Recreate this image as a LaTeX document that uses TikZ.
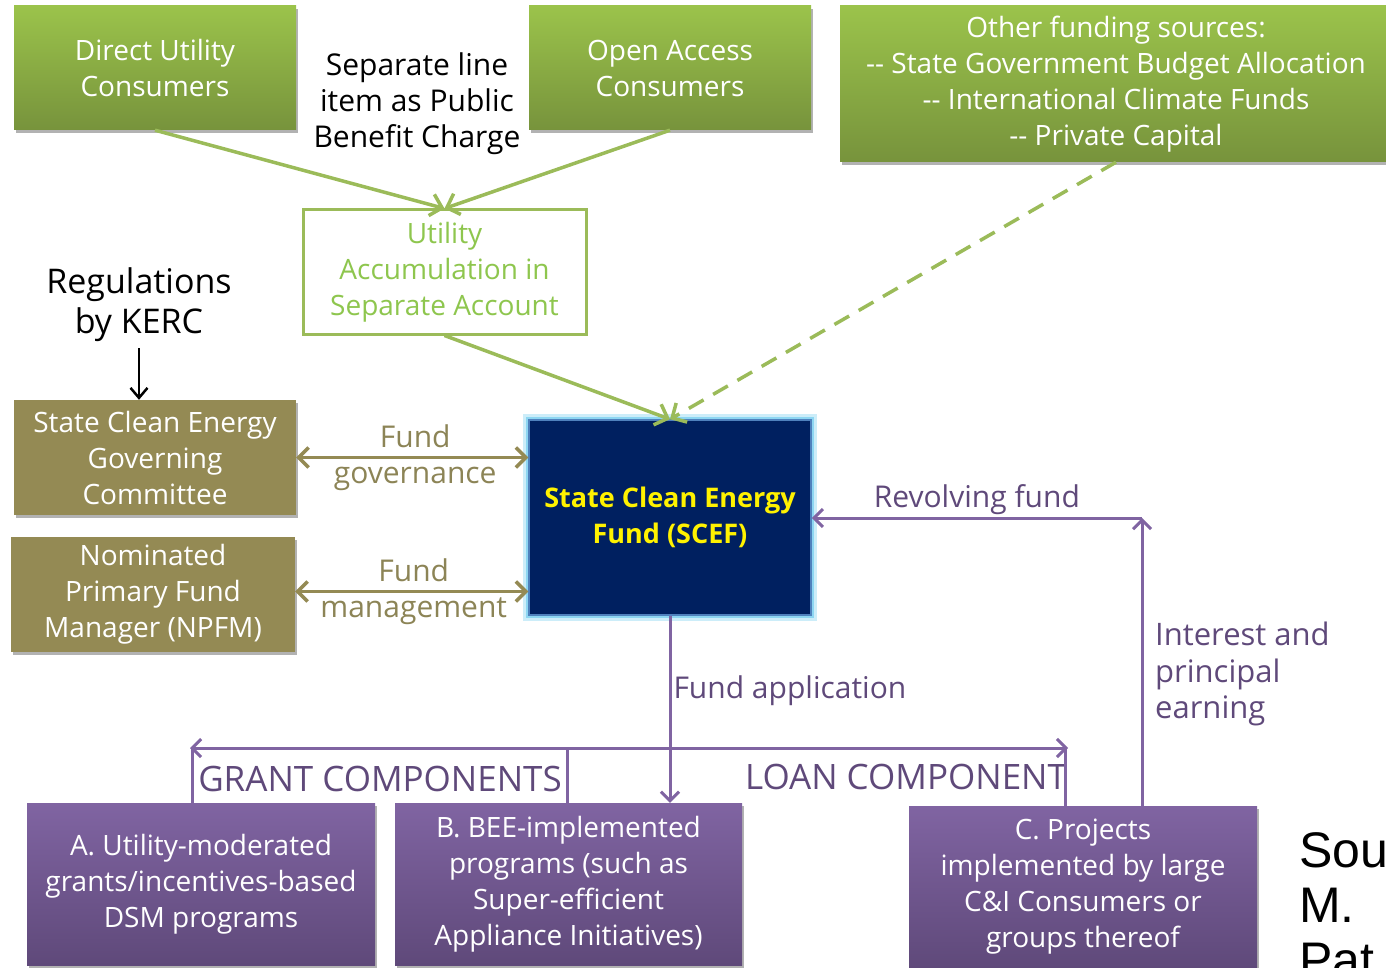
\documentclass[tikz,border=0pt]{standalone}
\usepackage{fontspec}
\setmainfont{Open Sans}
\newfontfamily\arialfont{Liberation Sans}
\usepackage{tikz}
\usetikzlibrary{arrows,arrows.meta,shadows}

\definecolor{grntop}{HTML}{9BC34B}
\definecolor{grnbot}{HTML}{77933C}
\definecolor{grnline}{HTML}{9BBB59}
\definecolor{grntext}{HTML}{8EC64E}
\definecolor{olvbox}{HTML}{948A54}
\definecolor{olvtext}{HTML}{8C8456}
\definecolor{navybox}{HTML}{002060}
\definecolor{glowblue}{HTML}{8DD6F2}
\definecolor{edgeblue}{HTML}{4F81BD}
\definecolor{ppltop}{HTML}{8064A2}
\definecolor{pplbot}{HTML}{5F497A}
\definecolor{pplline}{HTML}{8064A2}
\definecolor{ppltext}{HTML}{5F497A}

\tikzset{
	boxtext/.style={align=center,inner sep=0pt,font=\fontsize{28}{36}\selectfont},
	shade/.style={drop shadow={shadow xshift=2pt,shadow yshift=-3pt,opacity=.3,fill=black}},
	greenbox/.style={boxtext,shade,top color=grntop,bottom color=grnbot,text=white},
	olivebox/.style={boxtext,shade,fill=olvbox,text=white},
	purplebox/.style={boxtext,shade,top color=ppltop,bottom color=pplbot,text=white},
	lbl/.style={align=center,inner sep=2pt,font=\fontsize{30}{36.5}\selectfont},
	grnarrow/.style={draw=grnline,line width=3.5pt,-{Straight Barb[length=11pt,width=22pt]}},
	olvarrow/.style={draw=olvbox,line width=3.5pt,{Straight Barb[length=10pt,width=20pt]}-{Straight Barb[length=10pt,width=20pt]}},
	pplarrow/.style={draw=pplline,line width=3pt,-{Straight Barb[length=9pt,width=18pt]}},
	pplbus/.style={draw=pplline,line width=3pt}
}

\begin{document}
\begin{tikzpicture}[x=1pt,y=-1pt]
	\useasboundingbox (0,0) rectangle (1386,968);
	\clip (0,0) rectangle (1386,968);

	% sources of money
	\node[greenbox,minimum width=282pt,minimum height=124pt] (dirc) at (155,68) {Direct Utility\\Consumers};
	\node[greenbox,minimum width=282pt,minimum height=124pt] (opac) at (670,68) {Open Access\\Consumers};
	\node[greenbox,minimum width=552pt,minimum height=156pt] (othr) at (1116,84) {Other funding sources:\\-{}- State Government Budget Allocation\\-{}- International Climate Funds\\-{}- Private Capital};
	\node[lbl,font=\fontsize{30}{36}\selectfont] (sepl) at (417,104) {Separate line\\item as Public\\Benefit Charge};
	\node[boxtext,draw=grnline,line width=3pt,fill=white,text=grntext,minimum width=283pt,minimum height=124pt] (accu) at (444.5,272) {Utility\\Accumulation in\\Separate Account};

	% governance
	\node[lbl,font=\fontsize{34}{40}\selectfont] (regs) at (139,305) {Regulations\\by KERC};
	\node[olivebox,minimum width=282pt,minimum height=115pt] (scgc) at (155,457.5) {State Clean Energy\\Governing\\Committee};
	\node[olivebox,minimum width=284pt,minimum height=115pt] (npfm) at (153,594.5) {Nominated\\Primary Fund\\Manager (NPFM)};

	% the fund
	\node[boxtext,preaction={draw=glowblue!45,line width=12pt},preaction={draw=glowblue,line width=6pt},fill=navybox,draw=edgeblue,line width=1.5pt,text=yellow,font=\bfseries\fontsize{27}{36}\selectfont,minimum width=282pt,minimum height=195pt] (scef) at (670,517.5) {State Clean Energy\\Fund (SCEF)};

	% components
	\node[purplebox,minimum width=348pt,minimum height=162pt] (cmpa) at (201,884) {A. Utility-moderated\\grants/incentives-based\\DSM programs};
	\node[purplebox,minimum width=347pt,minimum height=162pt] (cmpb) at (568.5,884) {B. BEE-implemented\\programs (such as\\Super-efficient\\Appliance Initiatives)};
	\node[purplebox,minimum width=348pt,minimum height=162pt] (cmpc) at (1083,887) {C. Projects\\implemented by large\\C\&I Consumers or\\groups thereof};
	\node[lbl,text=ppltext,font=\fontsize{35}{36}\selectfont] (grnt) at (380,779) {GRANT COMPONENTS};
	\node[lbl,text=ppltext,font=\fontsize{35}{36}\selectfont] (loan) at (906,777) {LOAN COMPONENT};
	\node[lbl,text=ppltext,align=left,anchor=west,font=\fontsize{31}{36.5}\selectfont] (intr) at (1153,674) {Interest and\\principal\\earning};
	\node[align=left,anchor=north west,inner sep=0pt,font=\arialfont\fontsize{50}{55}\selectfont] (srce) at (1299,832) {Sou\\M.\\Pat};

	% money flows
	\draw[grnarrow] (dirc.south) -- (accu.north);
	\draw[grnarrow] (opac.south) -- (accu.north);
	\draw[grnarrow] (accu.south) -- (scef.north);
	\draw[grnarrow,dash pattern=on 17pt off 11pt] (othr.south) -- (scef.north);
	\draw[line width=2.5pt,shorten <=4pt,-{Straight Barb[length=10pt,width=17pt]}] (regs.south) -- (regs.south |- scgc.north);

	\draw[olvarrow] (scgc.east) -- (scgc.east -| scef.west) node[midway,lbl,text=olvtext,xshift=3pt] {Fund\\governance};
	\draw[olvarrow] (npfm.east) ++(0,-3) coordinate (mgl) -- (mgl -| scef.west) node[midway,lbl,text=olvtext,xshift=2pt] {Fund\\management};

	% applications and returns
	\coordinate (busl) at (190,748);
	\coordinate (busr) at (1068,748);
	\coordinate (revl) at (1142,518);
	\draw[pplarrow] (scef.south) -- (scef.south |- cmpb.north) node[pos=.4,lbl,text=ppltext,anchor=west] {Fund application};
	\draw[pplarrow] (scef.south |- busl) -- (busl);
	\draw[pplarrow] (scef.south |- busr) -- (busr);
	\draw[pplbus] (busl) ++(2,0) -- ++(0,55);
	\draw[pplbus] (cmpb.north) ++(-1.5,0) -- ++(0,-55);
	\draw[pplbus] (busr) ++(-3,0) -- (cmpc.north -| 1065,0);
	\draw[pplarrow] (revl |- cmpc.north) -- (revl);
	\draw[pplarrow] (revl) -- (revl -| scef.east) node[midway,lbl,text=ppltext,anchor=south] {Revolving fund};
\end{tikzpicture}
\end{document}
